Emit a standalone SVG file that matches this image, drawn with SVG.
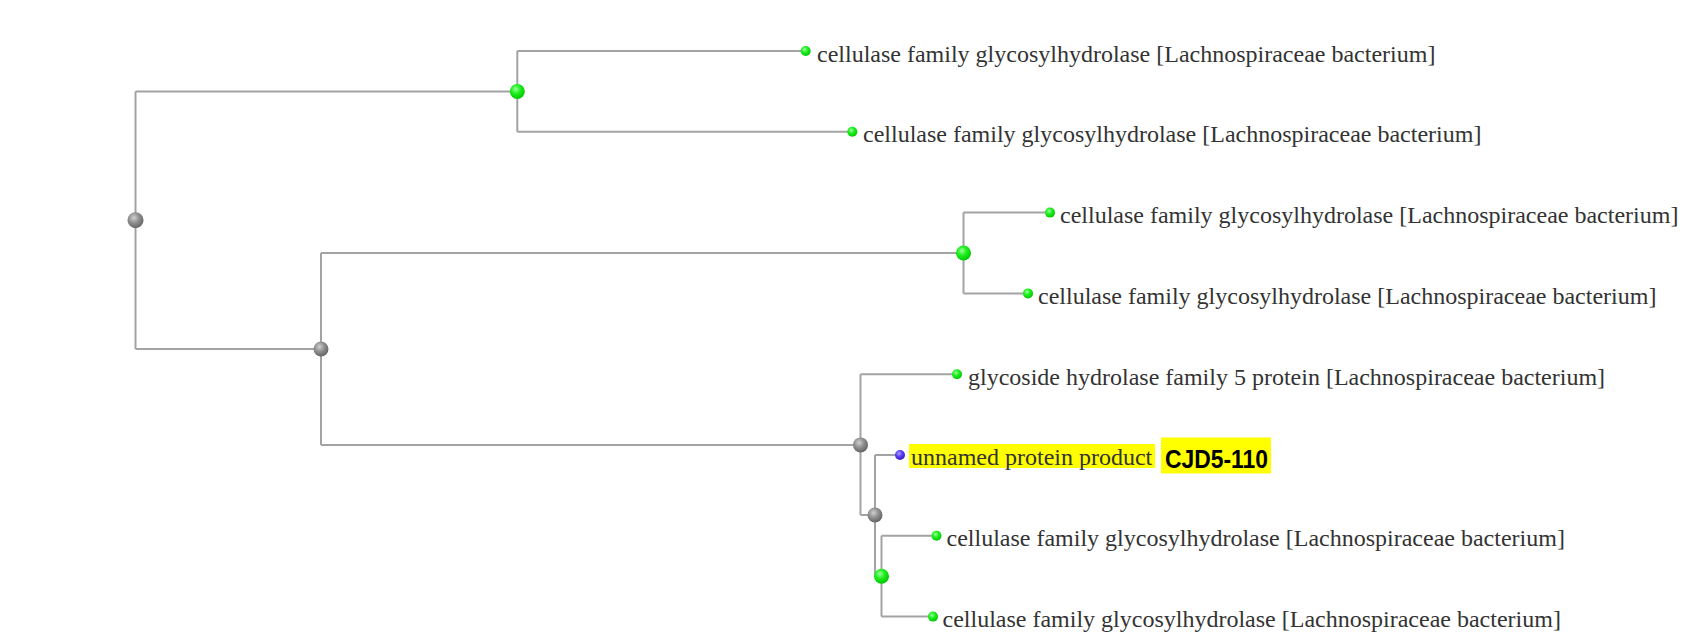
<svg xmlns="http://www.w3.org/2000/svg" width="1696" height="637" viewBox="0 0 1696 637">
<style>
.edge{fill:none;stroke:#a3a3a3;stroke-width:2}
.lbl{font-family:"Liberation Serif","Times New Roman",serif;font-size:24px;fill:#333}
.tag{font-family:"Liberation Sans",Arial,sans-serif;font-weight:bold;font-size:26px;fill:#000}
.hl{fill:#ffff00}
</style>
<defs>
<radialGradient id="gGreen" cx="0.4" cy="0.35" r="0.65">
<stop offset="0" stop-color="#9dff9d"/>
<stop offset="0.45" stop-color="#22f022"/>
<stop offset="1" stop-color="#00c800"/>
</radialGradient>
<radialGradient id="gGray" cx="0.4" cy="0.35" r="0.65">
<stop offset="0" stop-color="#d0d0d0"/>
<stop offset="0.5" stop-color="#909090"/>
<stop offset="1" stop-color="#666"/>
</radialGradient>
<radialGradient id="gBlue" cx="0.4" cy="0.35" r="0.65">
<stop offset="0" stop-color="#a9a0ff"/>
<stop offset="0.5" stop-color="#5a3cf5"/>
<stop offset="1" stop-color="#3a20c0"/>
</radialGradient>
</defs>
<rect width="1696" height="637" fill="#fff"/>
<g id="connectors">
<path class="edge" d="M135.5 91.4V349M135.5 91.4H517.3M135.5 349H321"/>
<path class="edge" d="M517.3 51V131.8M517.3 51H805.7M517.3 131.8H852.3"/>
<path class="edge" d="M321 253V444.9M321 253H963.5M321 444.9H860.5"/>
<path class="edge" d="M963.5 212.6V293.4M963.5 212.6H1050M963.5 293.4H1028"/>
<path class="edge" d="M860.5 374.2V515M860.5 374.2H957M860.5 515H875"/>
<path class="edge" d="M875 455V576.2M875 455H900M875 576.2H881.5"/>
<path class="edge" d="M881.5 535.8V616.6M881.5 535.8H936.5M881.5 616.6H933"/>
</g>
<g id="root"><circle cx="135.5" cy="220.2" r="8" fill="url(#gGray)"/></g>
<g id="nodeA"><circle cx="517.3" cy="91.4" r="7.5" fill="url(#gGreen)"/></g>
<g id="nodeB"><circle cx="321" cy="349" r="7.5" fill="url(#gGray)"/></g>
<g id="nodeC"><circle cx="963.5" cy="253" r="7.5" fill="url(#gGreen)"/></g>
<g id="nodeD"><circle cx="860.5" cy="444.9" r="7.5" fill="url(#gGray)"/></g>
<g id="nodeE"><circle cx="875" cy="515" r="7.5" fill="url(#gGray)"/></g>
<g id="nodeF"><circle cx="881.5" cy="576.2" r="7.5" fill="url(#gGreen)"/></g>
<g id="leaf1"><circle cx="805.7" cy="51" r="5" fill="url(#gGreen)"/><text class="lbl" x="817" y="61.5">cellulase family glycosylhydrolase [Lachnospiraceae bacterium]</text></g>
<g id="leaf2"><circle cx="852.3" cy="131.8" r="5" fill="url(#gGreen)"/><text class="lbl" x="863" y="142.3">cellulase family glycosylhydrolase [Lachnospiraceae bacterium]</text></g>
<g id="leaf3"><circle cx="1050" cy="212.6" r="5" fill="url(#gGreen)"/><text class="lbl" x="1060" y="223.1">cellulase family glycosylhydrolase [Lachnospiraceae bacterium]</text></g>
<g id="leaf4"><circle cx="1028" cy="293.4" r="5" fill="url(#gGreen)"/><text class="lbl" x="1038" y="303.9">cellulase family glycosylhydrolase [Lachnospiraceae bacterium]</text></g>
<g id="leaf5"><circle cx="957" cy="374.2" r="5" fill="url(#gGreen)"/><text class="lbl" x="968" y="384.7">glycoside hydrolase family 5 protein [Lachnospiraceae bacterium]</text></g>
<g id="leaf6">
<rect class="hl" x="909" y="444" width="246" height="24"/>
<circle cx="900" cy="455" r="5" fill="url(#gBlue)"/>
<text class="lbl" x="911" y="465.3">unnamed protein product</text>
<rect class="hl" x="1161" y="437.5" width="110" height="36"/>
<text class="tag" x="1165" y="467.5" textLength="103" lengthAdjust="spacingAndGlyphs">CJD5-110</text>
</g>
<g id="leaf7"><circle cx="936.5" cy="535.8" r="5" fill="url(#gGreen)"/><text class="lbl" x="946.5" y="546.3">cellulase family glycosylhydrolase [Lachnospiraceae bacterium]</text></g>
<g id="leaf8"><circle cx="933" cy="616.6" r="5" fill="url(#gGreen)"/><text class="lbl" x="942.5" y="627.1">cellulase family glycosylhydrolase [Lachnospiraceae bacterium]</text></g>
</svg>
